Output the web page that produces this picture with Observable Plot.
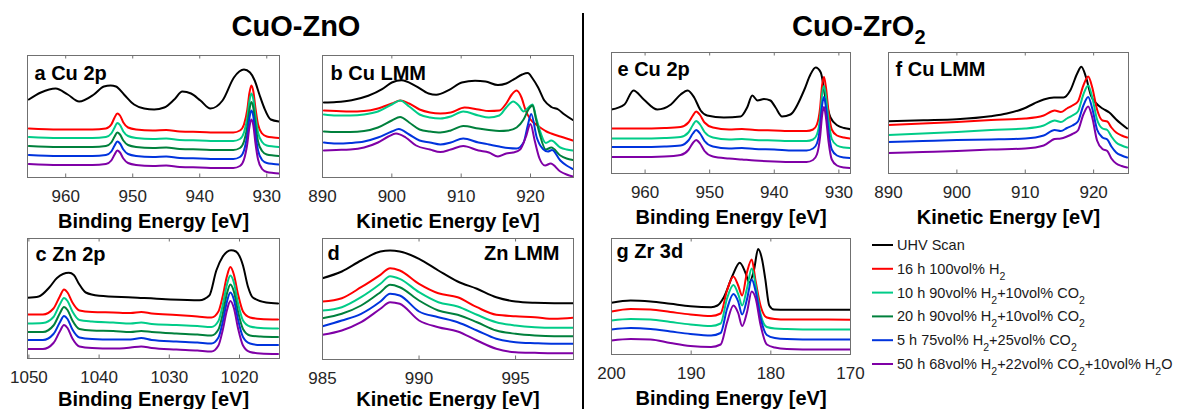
<!DOCTYPE html>
<html><head><meta charset="utf-8">
<script src="https://cdn.jsdelivr.net/npm/d3@7"></script>
<script src="https://cdn.jsdelivr.net/npm/@observablehq/plot@0.6"></script>
<style>
body{margin:0;background:#fff;}
#root{position:relative;width:1180px;height:409px;overflow:hidden;background:#fff;font-family:"Liberation Sans",Arial,sans-serif;}
.panel{position:absolute;}
#overlay{position:absolute;left:0;top:0;}
</style></head><body><div id="root"></div>
<script>
// ---------- series names & colours ----------
const names = ["UHV Scan","16 h 100vol% H_2","10 h 90vol% H_2+10vol% CO_2","20 h 90vol% H_2+10vol% CO_2","5 h 75vol% H_2+25vol% CO_2","50 h 68vol% H_2+22vol% CO_2+10vol% H_2O"];
const colors = ["#000000","#ff0000","#00cc88","#00803c","#0033dd","#7f00a6"];

// ---------- panel a : Cu 2p (CuO-ZnO) ----------
const aUHV = [[965.5,78],[963.7,85],[961.5,89],[959.7,83],[958,76],[955.8,83],[954.3,91],[953.3,92],[952.5,91],[951.3,83],[949.8,73],[948.3,69],[946.8,68],[945.3,70],[943.8,78],[942.6,86],[941.3,84],[939.9,77],[938.4,69],[936.6,77],[934.9,100],[934.1,106],[933.4,108],[932.5,105],[931.8,97],[931.1,83],[930.4,70],[929.4,58],[928.2,56]];
const aX = [965.5,961,956,954,953.2,952.7,952.3,951.9,951.4,950.7,949.5,947,945,943,940,937,935,934,933.4,932.9,932.6,932.3,932.0,931.7,931.3,930.7,930,929,928.2];
const aRed = [49,48,48,49,53,60,64,62,55,50,48,47,47.5,46,45.5,45,45,47,53,68,84,92,86,70,53,44,41,40,39.5];
const aLGreen = [40.5,39.5,39.5,40.5,44,50,54.5,52.5,46,41.5,39.5,38.5,39,37.5,37,36.5,36.5,38.5,45,60,76,84,78,62,45,35.5,32,31,30.5];
const aDGreen = [31.5,30.5,30.5,31.5,35,41,45,43,37,32.5,30.5,29.5,30,28.5,28,27.5,27.5,29.5,36,51,67,75.5,69.5,53,36,26.5,23,22,21.5];
const aBlue = [22.5,21.5,21.5,22.5,26,32,36,34,28,23.5,21.5,20.5,21,19.5,19,18.5,18.5,20.5,27,43,59,67,61,44,27,17.5,14.5,13.5,13];
const aPurple = [13.5,12.5,12.5,13.5,17,23,27,25,19,14.5,12.5,11.5,12,10.5,10,9.5,9.5,11.5,18,34,50,58,52,35,18,8.5,5.5,4.5,4];

// ---------- panel b : Cu LMM (CuO-ZnO) ----------
const bUHV = [[890.2,75],[892,75.5],[894.2,77.3],[896.6,81.7],[898.6,88.3],[900,95],[901.4,97.3],[903.4,91.7],[905.3,84],[906.4,82.7],[908.2,87.3],[910.1,95],[912,96.7],[913.5,96],[915.3,92.5],[916.5,94],[917.7,98.7],[918.8,103],[919.6,104.5],[920.3,99],[921.1,90],[922,77],[923,70.5],[924,68],[924.9,63],[926.1,57.5]];
const bRed = [[890.2,67],[892,66.5],[894,66],[896,66.5],[898,69],[900,74],[901.2,77],[902.5,74],[904,68],[905.5,65],[907,64],[908.5,65],[910.5,70],[912.5,68],[914,66.5],[915.5,67],[916.5,74],[917.3,83],[918,87],[918.7,80],[919.3,67],[920,58],[921,52],[921.6,49],[922.3,46],[923,44],[924.3,41],[925.2,39],[926.1,37]];
const bLGreen = [[890.2,63],[892,62],[894,62],[896,63],[898,66],[900,73],[901.2,77],[902.5,71],[904,63],[905.5,60],[907,59],[908.5,61],[910.3,66],[912.5,62],[914,60],[915.5,62],[916.5,70],[917.5,76],[918.3,72],[919,66],[919.7,70],[920.3,73],[920.8,60],[921.3,48],[922.2,34.5],[923,37],[924.3,30],[925.2,28],[926.1,27]];
const bDGreen = [[890.2,46],[892,45.5],[894,45.5],[896,46.5],[898,50],[900,57],[901.2,60.5],[902.5,55],[904,48],[905.5,46],[907,45],[908.5,47],[910.3,51.5],[912.5,49],[914,47.5],[915.5,46.5],[916.8,47],[918,50],[919,58],[919.7,68],[920.3,72],[920.8,58],[921.3,44],[922.2,28],[923,30],[924.3,22],[925.2,19],[926.1,17.5]];
const bBlue = [[890.2,35],[892,34],[894,34.5],[896,36],[898,40],[900,46],[901,48.5],[902.5,43],[904,37],[905.5,35],[907,33],[908.5,35],[910.3,39],[912.5,35],[914,33],[915.5,31],[916.8,29.5],[918,29],[919,35],[919.6,52],[920.1,63.5],[920.9,40],[921.8,28.5],[922.5,26],[923.1,27.5],[924.3,17],[925.2,12],[926.1,8.5]];
const bPurple = [[890.2,27],[892,27.5],[894,28],[896,30],[898,35],[899.5,41],[900.6,44],[902,40],[903.5,32],[905.5,28],[907,25.5],[908.5,28],[910.3,31.5],[912.5,27],[914,25],[915.3,21],[916.5,24],[917.5,25],[918.5,28],[919.3,40],[920,53.5],[920.6,37],[921.3,19],[922.1,12],[922.9,14],[924.3,6],[925.2,3],[926.1,1]];

// ---------- panel c : Zn 2p ----------
const cUHV = [[1050.2,60.7],[1048.6,62],[1047.1,71],[1046,80.5],[1044.3,85.7],[1043.6,83.5],[1042.9,75],[1041.9,66],[1040,62.7],[1035.2,61],[1030.5,59.3],[1025.7,58.3],[1024.3,63],[1023.3,88],[1022.4,101.7],[1021.2,108.3],[1020.5,107],[1019.5,93],[1018.8,72],[1018.1,61],[1016.2,56],[1014.5,55]];
const cX = [1050.2,1048,1046.5,1045.6,1045,1044.5,1043.8,1042.8,1041,1038,1035.5,1034,1032.5,1029,1026,1024,1023,1022.4,1021.8,1021.3,1020.8,1020.2,1019.5,1018.5,1017,1014.5];
const cRed = [44,44,50,62,69,66,56,48,46.5,46,45.5,46.5,45,43.5,42,41,47,62,82,91.5,84,64,47,41,39.5,39];
const cLGreen = [35,35.5,41.5,54,60.5,57.5,47,38.5,37,36,35,36,34.5,33.5,32.5,31.5,37.5,53,73.5,83,76,55,38,32,30.5,30];
const cDGreen = [26.5,26.5,33,45,51.5,48.5,38,29.5,28,27.5,26.5,27.5,26.5,25,24,23,29,44,64.5,74,67,46.5,29.5,23,22,21.5];
const cBlue = [18.5,18.5,24.5,36,42.5,39.5,29,21,19.5,19,19,20.5,18.5,17,16,15,21,36,56.5,66,59,38.5,21.5,15,13.5,13.5];
const cPurple = [9.5,9.5,15.5,27,33.5,30.5,20,12,10.5,10,11,12,10.5,9,8,7,13,28,48,57.5,50.5,30,13,6.5,5,4.5];

// ---------- panel d : Zn LMM ----------
const dX = [985,986,987,988,988.5,989,990,991,992,993,994,995,996,997,998];
const dUHV = [81.3,88,99,108,109,108,100.7,89,78,70.7,62.3,58,56.7,56.3,56.3];
const dRed = [58,61.3,72.3,84.7,91.3,89,75.7,66.3,62.3,52.3,44.7,43.3,42.3,40.7,41.7];
const dLGreen = [49,52.3,62.3,75.7,83.3,80.7,67.3,57.3,53,44.7,37.3,34,32.3,31.7,31.7];
const dDGreen = [41.3,45.7,54,67.3,74.7,72.3,59,49,44.7,37.3,29,25.7,24,23.3,23.3];
const dBlue = [33.3,39,45.7,58,65.7,64,48,42.3,37.3,29,20.7,17.3,16.3,15.7,15.7];
const dPurple = [24.7,29,37.3,50.7,57.3,55.7,39,32.3,28,19,10.7,7.3,6.7,6.3,6.3];

// ---------- panel e : Cu 2p (CuO-ZrO2) ----------
const eUHV = [[965.2,64],[963.2,69],[961.8,83],[960.2,74],[958.1,64],[956,69],[954.5,79],[953.4,83],[952.4,76],[951.4,63],[950.4,58],[947.8,56],[945.2,57],[944.2,66],[943.4,78],[942.6,73],[941.6,74.5],[940.6,73],[939.8,66],[938.8,57],[937.5,59],[935.4,83],[934.4,99],[933.6,106],[932.8,101],[932.1,76],[931.3,56],[930.2,48],[929.2,45.5],[928.2,44.3]];
const eX = [965.2,961,957,954.5,953.3,952.6,952.1,951.5,950.8,949.5,947,945,943,940,937,935,934,933.4,932.9,932.6,932.3,932.0,931.6,931.1,930.3,929.2,928.2];
const eRed = [45,45,45.5,46.5,51,58,62,58.5,51,46,44,44.5,43.5,43,42.5,42.5,44,49,66,88,96.5,86,62,44,38,36,35];
const eLGreen = [35,35,35.5,36.5,41,48.5,52.5,49,41.5,36,34,34.5,33.5,33,32.5,32.5,34,39,56,79,87.5,77,53,34.5,28,26,25.5];
const eBlue = [26.5,26.5,27,28,33,40,43.5,40,32.5,27,25,25.5,24.5,24,23,23,25,30,47,68,76.5,66,42,24,18,16,15.5];
const ePurple = [16.5,16.5,17,18.5,23.5,30.5,33.5,30,22.5,17,15,14,13,12,11.5,11.5,13.5,19,37,58,66.5,56,32,14,8,6,5.5];

// ---------- panel f : Cu LMM (CuO-ZrO2) ----------
const fUHV = [[890,52.3],[895.1,53.3],[900,54.3],[904.9,57.3],[907.3,60],[909.8,65],[911.3,70],[912.7,74],[914.2,76],[915.6,76],[916.6,83.3],[917.6,100],[918.2,106.7],[918.9,96],[919.6,78],[920.4,70],[921.3,65],[922.3,61],[923.3,54],[924.9,45]];
const fX = [890,895,900,905,910,912.7,914.3,915.2,916.1,916.9,917.7,918.5,919.2,919.8,920.5,921.3,922,922.6,923.3,924.1,924.9];
const fRed = [48.5,50,51.5,53.5,55,58,63,61.5,65,68,72,88,97,86,64,53,52,46,41,38,36];
const fLGreen = [38.5,40,41.5,43.5,45,48,53,51.5,55,58,62,79,88,76,54,45,43.5,37,31,28,26];
const fBlue = [31.5,32.5,33.5,34,35,38,43.5,42.5,45.5,48,52,68,76.5,65,44,36,34,27,21,18,16];
const fPurple = [20.5,21.5,22.5,24,25,28,34.5,35,37,39.5,43,59,67,56,33,24.5,22.5,15,10,7.5,6];

// ---------- panel g : Zr 3d ----------
const gUHV = [[200,51.7],[197.6,54],[195.1,53],[192.6,50.7],[190.1,48.3],[187.5,47.3],[186.7,49],[185.9,57.3],[184.8,79],[183.9,91.7],[183.2,82],[182.7,72],[182.1,85],[181.6,105.5],[181.1,95],[180.7,75.7],[180.2,49],[179.6,45],[178,44.7],[170,44.7]];
const gX = [200,197.6,195.1,192.6,190.1,187.5,186.3,185.5,184.7,184.1,183.6,183.0,182.4,181.9,181.3,180.5,179.5,178,174,170];
const gRed = [43,45.5,45,42.5,40,38.5,41,64,78,69,59,82,95,73,49,37,35.5,35,35,34.7];
const gLGreen = [34,35.5,35,32.5,30,28.5,31,56,69.5,60.5,49,66,86,69,41,27.5,26,25.5,25,25];
const gBlue = [25,26.5,25.5,23,20.5,19,21.5,45.5,60.5,53,40,55,75,63,37,19.5,16.5,15.5,15,15];
const gPurple = [14,15.5,15,11.5,8.5,7.5,10,32,49,41.5,28.5,42,63,56,30,10,7,5.5,5,5];

// ---------- tick values & axis texts ----------
const ticksCu2p = [960,950,940,930];
const ticksCuLMM = [890,900,910,920];
const ticksZn2p = [1050,1040,1030,1020];
const ticksZnLMM = [985,990,995];
const ticksZr3d = [200,190,180,170];
const BE = "Binding Energy [eV]", KE = "Kinetic Energy [eV]";

// ---------- helpers to build tables ----------
const fromPairs = (k, arr) => arr.map(([E, I]) => ({E, I, s: names[k]}));
const fromGrid = (k, xs, ys) => xs.map((E, i) => ({E, I: ys[i], s: names[k]}));

const panels = [
  {tag:"a Cu 2p", label:BE, domain:[965.7,928.1], ticks:ticksCu2p, L:{left:27,top:55,w:252,h:122,tagDx:7,tagBase:24,labDy:50},
   rows:[...fromPairs(0,aUHV),...fromGrid(1,aX,aRed),...fromGrid(2,aX,aLGreen),...fromGrid(3,aX,aDGreen),...fromGrid(4,aX,aBlue),...fromGrid(5,aX,aPurple)]},
  {tag:"b Cu LMM", label:KE, domain:[890,926.2], ticks:ticksCuLMM, L:{left:322,top:55,w:251,h:122,tagDx:8,tagBase:24,labDy:50},
   rows:[...fromPairs(0,bUHV),...fromPairs(1,bRed),...fromPairs(2,bLGreen),...fromPairs(3,bDGreen),...fromPairs(4,bBlue),...fromPairs(5,bPurple)]},
  {tag:"c Zn 2p", label:BE, domain:[1050.2,1014.3], ticks:ticksZn2p, L:{left:27,top:238,w:252,h:120,tagDx:8,tagBase:22,labDy:47},
   rows:[...fromPairs(0,cUHV),...fromGrid(1,cX,cRed),...fromGrid(2,cX,cLGreen),...fromGrid(3,cX,cDGreen),...fromGrid(4,cX,cBlue),...fromGrid(5,cX,cPurple)]},
  {tag:"d", tagRight:"Zn LMM", label:KE, domain:[985,998], ticks:ticksZnLMM, L:{left:322,top:238,w:251,h:121,tagDx:5,tagBase:21,labDy:46},
   rows:[...fromGrid(0,dX,dUHV),...fromGrid(1,dX,dRed),...fromGrid(2,dX,dLGreen),...fromGrid(3,dX,dDGreen),...fromGrid(4,dX,dBlue),...fromGrid(5,dX,dPurple)]},
  {tag:"e Cu 2p", label:BE, domain:[965.2,928.2], ticks:ticksCu2p, L:{left:611,top:52,w:239,h:121,tagDx:6,tagBase:23,labDy:50},
   rows:[...fromPairs(0,eUHV),...fromGrid(1,eX,eRed),...fromGrid(2,eX,eLGreen),...fromGrid(4,eX,eBlue),...fromGrid(5,eX,ePurple)]},
  {tag:"f Cu LMM", label:KE, domain:[890,925.1], ticks:ticksCuLMM, L:{left:888,top:52,w:240,h:121,tagDx:7,tagBase:23,labDy:50},
   rows:[...fromPairs(0,fUHV),...fromGrid(1,fX,fRed),...fromGrid(2,fX,fLGreen),...fromGrid(4,fX,fBlue),...fromGrid(5,fX,fPurple)]},
  {tag:"g Zr 3d", label:BE, domain:[200,170], ticks:ticksZr3d, L:{left:611,top:238,w:239,h:116,tagDx:5,tagBase:19,labDy:50},
   rows:[...fromPairs(0,gUHV),...fromGrid(1,gX,gRed),...fromGrid(2,gX,gLGreen),...fromGrid(4,gX,gBlue),...fromGrid(5,gX,gPurple)]}
];

const FONT = "'Liberation Sans', Arial, sans-serif";
const root = document.getElementById("root");
const FRAME = "#707070";

for (const p of panels) {
  const L = p.L, mL = 45, mR = 45, mT = 35, mB = 62;
  const marks = [
    Plot.lineY(p.rows, {x:"E", y:"I", z:"s", stroke:"s", strokeWidth:2, curve:"monotone-x", clip:true}),
    Plot.frame({stroke:FRAME, strokeWidth:1}),
    Plot.ruleX(p.ticks, {x:d=>d, y1:0, y2:3.5, stroke:FRAME}),
    Plot.ruleX(p.ticks, {x:d=>d, y1:L.h, y2:L.h-3.5, stroke:FRAME}),
    Plot.axisX({ticks:p.ticks, tickSize:0, tickPadding:12, fontSize:17, tickFormat:d=>String(d), label:null}),
    Plot.text([p.label], {text:d=>d, frameAnchor:"bottom", lineAnchor:"bottom", dy:L.labDy, fontSize:20, fontWeight:"bold", fill:"#000"}),
    Plot.text([p.tag], {text:d=>d, frameAnchor:"top-left", textAnchor:"start", lineAnchor:"bottom", dx:L.tagDx, dy:L.tagBase, fontSize:20, fontWeight:"bold", fill:"#000"})
  ];
  if (p.tagRight) marks.push(Plot.text([p.tagRight], {text:d=>d, frameAnchor:"top-right", textAnchor:"end", lineAnchor:"bottom", dx:-14, dy:L.tagBase, fontSize:20, fontWeight:"bold", fill:"#000"}));
  const chart = Plot.plot({
    width: L.w + mL + mR, height: L.h + mT + mB,
    marginLeft: mL, marginRight: mR, marginTop: mT, marginBottom: mB,
    style: {background:"transparent", overflow:"visible", color:"#262626", fontFamily:FONT},
    x: {domain: p.domain},
    y: {domain: [0, L.h], axis: null},
    color: {type:"ordinal", domain: names, range: colors},
    marks
  });
  const div = document.createElement("div");
  div.className = "panel";
  div.style.left = (L.left - mL) + "px";
  div.style.top = (L.top - mT) + "px";
  div.style.width = (L.w + mL + mR) + "px";
  div.appendChild(chart);
  root.appendChild(div);
}

// ---------- titles, divider and legend ----------
const NS = "http://www.w3.org/2000/svg";
const ov = document.createElementNS(NS, "svg");
ov.setAttribute("id","overlay"); ov.setAttribute("width",1180); ov.setAttribute("height",409);
ov.style.fontFamily = FONT;
function el(tag, attrs, parent) { const e = document.createElementNS(NS, tag); for (const k in attrs) e.setAttribute(k, attrs[k]); (parent||ov).appendChild(e); return e; }
const t1 = el("text", {x:296, y:36, "text-anchor":"middle", "font-weight":"bold", "font-size":29, fill:"#000"}); t1.textContent = "CuO-ZnO";
const t2 = el("text", {x:792, y:36, "font-weight":"bold", "font-size":29, fill:"#000"});
el("tspan", {}, t2).textContent = "CuO-ZrO";
el("tspan", {dy:8, "font-size":20}, t2).textContent = "2";
el("line", {x1:583, x2:583, y1:13, y2:409, stroke:"#000", "stroke-width":2});

function richText(textEl, str, subSize, subDy) {
  const parts = str.split(/_(\d)/);
  let pending = 0;
  parts.forEach((part, i) => {
    if (i % 2 === 1) {
      el("tspan", {dy: subDy, "font-size": subSize}, textEl).textContent = part;
      pending = -subDy;
    } else if (part) {
      el("tspan", {dy: pending}, textEl).textContent = part;
      pending = 0;
    }
  });
}
names.forEach((n, i) => {
  const y = 245 + i * 23.8;
  el("line", {x1:872, x2:893, y1:y, y2:y, stroke:colors[i], "stroke-width":2});
  const t = el("text", {x:897, y:y + 5, "font-size":14.5, fill:"#1a1a1a"});
  richText(t, n, 10.5, 6);
});
root.appendChild(ov);
</script>
</body></html>
